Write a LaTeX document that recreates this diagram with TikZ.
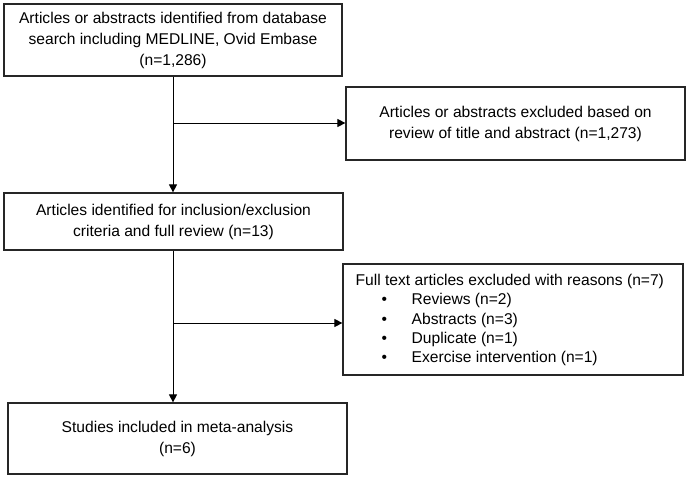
\documentclass[tikz,border=0pt]{standalone}
\usepackage{fontspec}
\setmainfont{Liberation Sans}
\usetikzlibrary{arrows.meta,shadows}
\begin{document}
\begin{tikzpicture}[x=1bp,y=-1bp,
  box/.style={draw=black!85, line width=1.2bp, fill=white, inner sep=0pt,
    align=center, font=\fontsize{15.6bp}{21bp}\selectfont,
    drop shadow={shadow xshift=1.2bp, shadow yshift=-1.2bp, fill=black!35, opacity=1}},
  conn/.style={draw=black, line width=0.9bp},
  arr/.style={conn, -{Triangle[length=8bp,width=8bp]}},
  listtext/.style={align=left, inner sep=0pt, font=\fontsize{15.6bp}{19.2bp}\selectfont}
]
\useasboundingbox (0,0) rectangle (690,482);
\fill[white] (0,0) rectangle (690,482);

\node[box, minimum width=338bp, minimum height=72bp] (b1) at (173,40)
  {Articles or abstracts identified from database\\search including MEDLINE, Ovid Embase\\(n=1,286)};
\node[box, minimum width=339bp, minimum height=73bp] (r1) at (515.5,123.5)
  {Articles or abstracts excluded based on\\review of title and abstract (n=1,273)};
\node[box, minimum width=339bp, minimum height=57bp] (b2) at (173.5,221.5)
  {Articles identified for inclusion/exclusion\\criteria and full review (n=13)};
\node[box, minimum width=340bp, minimum height=111bp] (r2) at (513,319.5) {};
\node[listtext, anchor=west] (r2t) at (355.5,320)
  {Full text articles excluded with reasons (n=7)\\
   \hspace*{26bp}\makebox[30bp][l]{•}Reviews (n=2)\\
   \hspace*{26bp}\makebox[30bp][l]{•}Abstracts (n=3)\\
   \hspace*{26bp}\makebox[30bp][l]{•}Duplicate (n=1)\\
   \hspace*{26bp}\makebox[30bp][l]{•}Exercise intervention (n=1)};
\node[box, minimum width=339bp, minimum height=71bp] (b3) at (177.5,438.5)
  {Studies included in meta-analysis\\(n=6)};

\coordinate (j1) at (173,123);
\coordinate (j2) at (173,323);

\draw[arr] (b1.south) -- (b1.south |- b2.north);
\draw[arr] (j1) -- (r1.west |- j1);
\draw[arr] (b2.south -| b1.south) -- (b1.south |- b3.north);
\draw[arr] (j2) -- (r2.west |- j2);
\end{tikzpicture}
\end{document}
